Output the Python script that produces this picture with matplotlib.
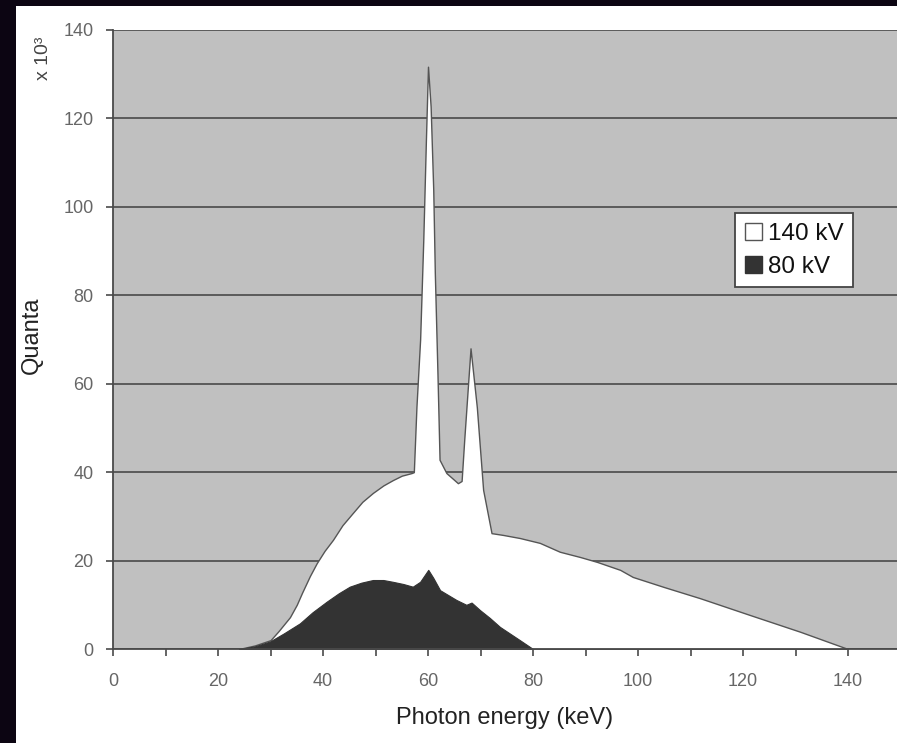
import matplotlib
matplotlib.use("Agg")
import matplotlib.pyplot as plt
from matplotlib.patches import Rectangle, Patch
from matplotlib.ticker import MultipleLocator

plt.rcParams['font.family'] = ['Liberation Sans', 'DejaVu Sans']

# 140 kV spectrum (energy keV, quanta x10^3)
e140 = [24, 27, 30, 31.5, 33.7, 35, 36, 37.5, 38.8, 40.3, 41.9, 43.7, 45.7, 47.5, 49.5, 51.5,
        53.3, 55, 56.9, 57.3, 57.8, 58.5, 59.1, 59.6, 60.0, 60.5, 61.0, 61.3, 61.8, 62.2, 63.5,
        65.7, 66.4, 66.9, 68.1, 69.3, 70.5, 72.1, 74.3, 77.5, 81.3, 85.1, 89.0, 92.2, 96.6,
        99, 105, 111.8, 121.3, 130.9, 140]
v140 = [0, 0.8, 2.0, 4.0, 7.2, 10.0, 12.7, 16.5, 19.4, 22.2, 24.7, 28.0, 30.8, 33.3, 35.3, 37.0,
        38.2, 39.2, 39.8, 40.0, 54.8, 70, 92.5, 115, 131.7, 122.7, 103.8, 85, 62.4, 42.8, 39.8,
        37.5, 38.0, 47.3, 68, 54.7, 36, 26.2, 25.8, 25.1, 24.0, 22.0, 20.8, 19.7, 17.9,
        16.3, 14.0, 11.5, 7.7, 3.9, 0]

# 80 kV spectrum
e80 = [24.2, 27, 29.9, 32.5, 35.6, 38, 40.7, 43, 45.1, 47.3, 49.5, 51.5, 53.3, 55.3, 57.1,
       58.5, 60.05, 61.0, 62.3, 65.4, 67.3, 68.3, 69.9, 71.8, 73.7, 75.6, 77.5, 79, 80]
v80 = [0, 0.6, 1.7, 3.5, 5.8, 8.3, 10.7, 12.6, 14.1, 15.0, 15.6, 15.6, 15.2, 14.7, 14.1,
       15.2, 17.9, 16.1, 13.3, 11.1, 10.0, 10.5, 8.8, 7.0, 5.0, 3.5, 2.0, 0.8, 0]

series_labels = ['140 kV', '80 kV']
x_ticks = [0, 20, 40, 60, 80, 100, 120, 140]
y_ticks = [0, 20, 40, 60, 80, 100, 120, 140]

W, H = 897, 743
fig = plt.figure(figsize=(W / 100, H / 100), dpi=100)
fig.patch.set_facecolor('#0c0512')
bg = Rectangle((16 / W, 0), 1 - 16 / W, 1 - 6 / H, transform=fig.transFigure,
               facecolor='white', edgecolor='none', zorder=-10)
fig.add_artist(bg)

ax = fig.add_axes([113 / W, (H - 649) / H, (W - 113) / W, 619 / H])
ax.set_zorder(2)
ax.set_facecolor('#c0c0c0')
ax.set_xlim(0, (W - 113) / 5.25)
ax.set_ylim(0, 140)

ax.set_axisbelow(True)
ax.yaxis.grid(True, color='#4a4a4a', linewidth=1.2, zorder=0)
ax.xaxis.grid(False)

ax.fill_between(e140, v140, 0, facecolor='white', edgecolor='#555555', linewidth=1.0, zorder=2)
ax.fill_between(e80, v80, 0, facecolor='#333333', edgecolor='#333333', linewidth=0.8, zorder=3)

for s in ['top', 'right']:
    ax.spines[s].set_visible(False)
for s in ['left', 'bottom']:
    ax.spines[s].set_color('#4a4a4a')
    ax.spines[s].set_linewidth(1.3)
    ax.spines[s].set_zorder(5)

ax.set_xticks(x_ticks)
ax.xaxis.set_minor_locator(MultipleLocator(10))
ax.set_yticks(y_ticks)
ax.tick_params(axis='x', which='both', direction='out', length=5, width=1.2, color='#4a4a4a',
               labelsize=13, labelcolor='#666666', pad=12)
ax.tick_params(axis='y', which='both', direction='out', length=5, width=1.2, color='#4a4a4a',
               labelsize=13, labelcolor='#666666', pad=9)

fig.text(505 / W, 25 / H, 'Photon energy (keV)', ha='center', va='center', fontsize=17,
         color='#222222')
fig.text(32 / W, (H - 335) / H, 'Quanta', ha='center', va='center', rotation=90,
         fontsize=17, color='#222222')
fig.text(44 / W, (H - 58) / H, 'x 10³', ha='center', va='center', rotation=90,
         fontsize=14, color='#444444')

handles = [Patch(facecolor='white', edgecolor='#555555', linewidth=1.0),
           Patch(facecolor='#333333', edgecolor='#333333')]
leg = ax.legend(handles, series_labels, loc='upper left',
                bbox_to_anchor=(735 / W, (H - 213) / H), bbox_transform=fig.transFigure,
                fontsize=17.5, frameon=True, fancybox=False, framealpha=1,
                handlelength=0.7, handleheight=0.7, handletextpad=0.25,
                labelspacing=0.45, borderpad=0.4, borderaxespad=0)
leg.get_frame().set_edgecolor('#444444')
leg.get_frame().set_linewidth(1.3)
for t in leg.get_texts():
    t.set_color('#111111')
leg.set_zorder(6)

fig.savefig('out.png', dpi=100, facecolor=fig.get_facecolor())
